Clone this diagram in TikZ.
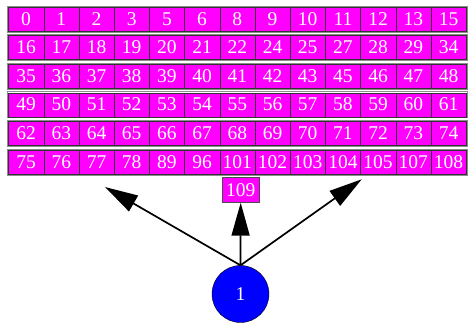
\documentclass[tikz,border=0pt]{standalone}
\usepackage{fontspec}
\setmainfont{Liberation Serif}
\usepackage{tikz}
\usetikzlibrary{arrows.meta, positioning}
\definecolor{cellfill}{HTML}{FF00FF}
\definecolor{rootfill}{HTML}{0000FF}
\tikzset{>={Triangle[length=33pt, width=18pt]}, font=\fontsize{19.5}{19.5}\selectfont}
\tikzset{cell/.style={shape=rectangle, draw=black!80, fill=cellfill, text=white,
    inner sep=0pt, text height=13pt, text depth=1pt,
    minimum width=35.2pt, minimum height=24pt}}
\tikzset{rowbox/.style={draw=black!45, line width=1pt}}
\tikzset{root/.style={shape=circle, draw, fill=rootfill, text=white,
    inner sep=0pt, minimum size=57pt}}

\begin{document}
\begin{tikzpicture}[x=1pt,y=-1pt]
    \useasboundingbox (0,0) rectangle (468,325);
    % the six rows of the table
    \foreach \vals [count=\r from 0] in {
      {0,1,2,3,5,6,8,9,10,11,12,13,15},
      {16,17,18,19,20,21,22,24,25,27,28,29,34},
      {35,36,37,38,39,40,41,42,43,45,46,47,48},
      {49,50,51,52,53,54,55,56,57,58,59,60,61},
      {62,63,64,65,66,67,68,69,70,71,72,73,74},
      {75,76,77,78,89,96,101,102,103,104,105,107,108}} {
      \draw[rowbox] (7.5,6+28.6*\r) rectangle (467.5,32+28.6*\r);
      \foreach \v [count=\c from 0] in \vals
        \node[cell] (c\r-\c) at (26.1+35.2*\c,19+28.6*\r) {\v};
    }
    \node[cell, draw=black!70, minimum width=37pt, minimum height=25pt]
      (109) at (240.7,190) {109};
    \node[root] (n1) at (240.5,294) {1};
    \coordinate (left) at (105,187);
    \coordinate (right) at (361.7,179.3);
    \draw[->, line width=1.7pt] (n1.north) -- (left);
    \draw[->, line width=1.7pt] (n1.north) -- (109.south);
    \draw[->, line width=1.7pt] (n1.north) -- (right);
  \end{tikzpicture}
\end{document}
